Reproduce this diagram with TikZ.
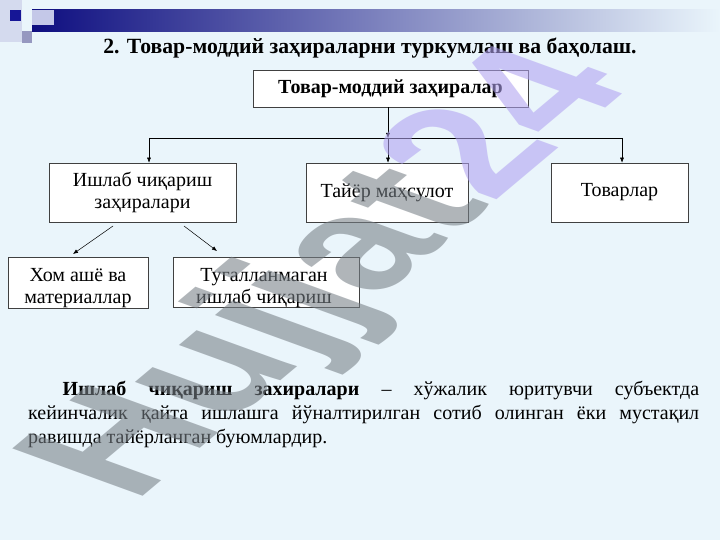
\documentclass[tikz,border=0pt]{standalone}
\usepackage{fontspec}
\setmainfont{Liberation Serif}
\newfontfamily\wmfont{Liberation Sans}
\usetikzlibrary{arrows.meta,positioning}

\definecolor{slidebg}{RGB}{234,245,251}
\definecolor{barnavy}{RGB}{14,14,128}
\definecolor{barmid}{RGB}{118,122,192}
\definecolor{sqlight}{RGB}{212,218,238}
\definecolor{sqdark}{RGB}{22,22,150}
\definecolor{sqgray}{RGB}{150,152,192}
\definecolor{sqpale}{RGB}{196,200,232}
\definecolor{wmgray}{RGB}{120,128,135}
\definecolor{wmlav}{RGB}{177,162,241}

\tikzset{
  box/.style={draw=black!75, fill=white, line width=0.6pt, align=center, inner sep=0pt,
    font=\fontsize{20}{22}\selectfont},
  arr/.style={-{Latex[length=5pt,width=4pt]}, line width=0.5pt},
}

\begin{document}
\begin{tikzpicture}[x=1pt,y=-1pt]

		%%Background
		\fill[slidebg] (0,0) rectangle (720,540);
		\useasboundingbox (0,0) rectangle (720,540);

		%%top strip
		\fill[sqlight] (0,0) rectangle (22,42);
		\shade[left color=barnavy, middle color=barmid, right color=slidebg] (32,10) rectangle (720,32);
		\fill[sqdark] (10,10) rectangle (21,21);
		\fill[sqgray] (22,31) rectangle (32,43);
		\fill[sqpale] (32,10) rectangle (54,25);

		%%Title
		\node[font=\bfseries\fontsize{21.7}{24}\selectfont] (title) at (370,48)
			{2. Товар-моддий заҳираларни туркумлаш ва баҳолаш.};

		%%Boxes
		\node[box, font=\bfseries\fontsize{20}{22}\selectfont, minimum width=275pt, minimum height=37pt] (top) at (390.5,88.5) {Товар-моддий заҳиралар};
		\node[box, minimum width=187pt, minimum height=59pt] (ishlab) at (142.5,192.5) {Ишлаб чиқариш\\заҳиралари};
		\node[box, minimum width=162pt, minimum height=59pt] (tayyor) at (387,192.5) {Тайёр маҳсулот};
		\node[box, minimum width=137pt, minimum height=59pt] (tovar) at (619.5,192.5) {Товарлар};
		\node[box, minimum width=140pt, minimum height=51pt] (xom) at (78,283) {};
		\node[box, minimum width=186pt, minimum height=50pt] (tugal) at (266,282) {};
		\node[align=center, inner sep=0pt, font=\fontsize{20}{22}\selectfont] (xomtxt) at (78,288) {Хом ашё ва\\материаллар};
		\node[align=center, inner sep=0pt, font=\fontsize{20}{22}\selectfont] (tugaltxt) at (264,288) {Тугалланмаган\\ишлаб чиқариш};

		%%Connectors
		\coordinate (jl) at (149,138);
		\coordinate (jm) at (388,138);
		\coordinate (jr) at (622,138);
		\draw[arr] (top.south -| jm) -- (jm);
		\draw[line width=0.5pt] (jl) -- (jr);
		\draw[arr] (jl) -- (jl |- ishlab.north);
		\draw[arr] (jm) -- (jm |- tayyor.north);
		\draw[arr] (jr) -- (jr |- tovar.north);

		\coordinate (sl) at (113,226);
		\coordinate (el) at (73,254);
		\coordinate (sr) at (184,226);
		\coordinate (er) at (217,251);
		\draw[arr] (sl) -- (el);
		\draw[arr] (sr) -- (er);

		%%Text
		\node[anchor=base west, inner sep=0pt, text width=671pt, align=justify,
			font=\fontsize{20}{24}\selectfont] (para) at (28,395)
			{\hspace*{34.5pt}\textbf{Ишлаб чиқариш захиралари} – хўжалик юритувчи субъектда\linebreak
			кейинчалик қайта ишлашга йўналтирилган сотиб олинган ёки мустақил\linebreak
			равишда тайёрланган буюмлардир.};

		%%Watermark
		\begin{scope}[shift={(336,276)}, cm={0.766,0.643,-1.128,0.410,(0,0)}]
			\node[transform shape, opacity=0.58, inner sep=0pt, font=\wmfont\bfseries\fontsize{168}{168}\selectfont] (wm) at (0,0)
				{{\color{wmgray}Hujjat}{\color{wmlav}24}};
		\end{scope}

\end{tikzpicture}
\end{document}
